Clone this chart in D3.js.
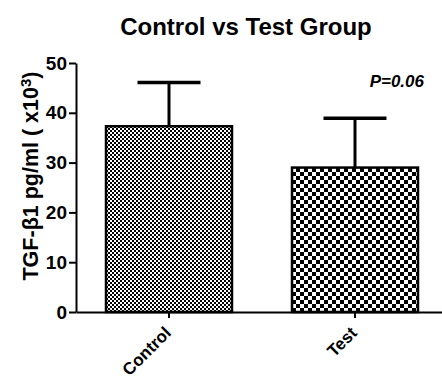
<!DOCTYPE html>
<html>
<head>
<meta charset="utf-8">
<script src="https://cdn.jsdelivr.net/npm/d3@7"></script>
<style>
  body { margin: 0; background: #fff; }
  text { font-family: "Liberation Sans", Arial, sans-serif; font-weight: bold; fill: #000; }
</style>
</head>
<body>
<div id="chart"></div>
<script>
const groups = ["Control", "Test"];
const means = [37.3, 29.0];
const errors = [8.8, 9.9];
const yTicks = [0, 10, 20, 30, 40, 50];
const pLabel = "P=0.06";

const width = 442, height = 376;

const svg = d3.select("#chart")
  .append("svg")
  .attr("width", width)
  .attr("height", height);

// fill patterns: fine checker for control, coarse checker for test
const defs = svg.append("defs");
function checker(id, s) {
  const p = defs.append("pattern")
    .attr("id", id)
    .attr("patternUnits", "userSpaceOnUse")
    .attr("width", s * 2)
    .attr("height", s * 2);
  p.append("rect").attr("width", s * 2).attr("height", s * 2).attr("fill", "#fff");
  p.append("rect").attr("width", s).attr("height", s).attr("fill", "#000");
  p.append("rect").attr("x", s).attr("y", s).attr("width", s).attr("height", s).attr("fill", "#000");
}
checker("fine", 2);
checker("coarse", 4);
const fills = ["url(#fine)", "url(#coarse)"];

const x = d3.scaleBand()
  .domain(groups)
  .range([76, 448])
  .paddingInner(0.3226)
  .paddingOuter(0.1613);

const y = d3.scaleLinear()
  .domain([0, 50])
  .range([312, 63]);

// bars
svg.selectAll(".bar")
  .data(groups)
  .enter()
  .append("rect")
  .attr("x", d => x(d))
  .attr("y", (d, i) => y(means[i]))
  .attr("width", x.bandwidth())
  .attr("height", (d, i) => y(0) - y(means[i]))
  .attr("fill", (d, i) => fills[i])
  .attr("stroke", "#000")
  .attr("stroke-width", 2.5);

// upper error bars
const cap = x.bandwidth() / 4;
groups.forEach((g, i) => {
  const cx = x(g) + x.bandwidth() / 2;
  svg.append("line")
    .attr("x1", cx).attr("x2", cx)
    .attr("y1", y(means[i])).attr("y2", y(means[i] + errors[i]))
    .attr("stroke", "#000").attr("stroke-width", 3);
  svg.append("line")
    .attr("x1", cx - cap).attr("x2", cx + cap)
    .attr("y1", y(means[i] + errors[i])).attr("y2", y(means[i] + errors[i]))
    .attr("stroke", "#000").attr("stroke-width", 3.5);
});

// y axis
const yAxis = svg.append("g")
  .attr("transform", "translate(76,0)")
  .call(d3.axisLeft(y).tickValues(yTicks).tickSize(7).tickPadding(2).tickSizeOuter(0));
yAxis.selectAll("path, line").attr("stroke", "#000").attr("stroke-width", 2);
yAxis.selectAll("text")
  .style("font-size", "19px")
  .style("font-family", "'Liberation Sans', Arial, sans-serif")
  .style("font-weight", "bold");

// x axis
const xAxis = svg.append("g")
  .attr("transform", "translate(0,312)")
  .call(d3.axisBottom(x).tickSize(6).tickSizeOuter(0));
xAxis.selectAll("path, line").attr("stroke", "#000").attr("stroke-width", 2);
xAxis.selectAll("text")
  .style("font-size", "17px")
  .style("font-family", "'Liberation Sans', Arial, sans-serif")
  .style("font-weight", "bold")
  .attr("text-anchor", "end")
  .attr("y", 0)
  .attr("dy", 0)
  .attr("transform", "translate(3,22) rotate(-45)");

// title
svg.append("text")
  .attr("x", 246)
  .attr("y", 35)
  .attr("text-anchor", "middle")
  .style("font-size", "24px")
  .text("Control vs Test Group");

// y label with superscript
const yl = svg.append("text")
  .attr("transform", "translate(38,176) rotate(-90)")
  .attr("text-anchor", "middle")
  .style("font-size", "21.5px");
yl.append("tspan").text("TGF-\u03b21 pg/ml ( x10");
yl.append("tspan").attr("dy", "-0.45em").style("font-size", "15px").text("3");
yl.append("tspan").attr("dy", "0.32em").text(")");

// p value
svg.append("text")
  .attr("x", 424)
  .attr("y", 87)
  .attr("text-anchor", "end")
  .style("font-size", "17px")
  .style("font-style", "italic")
  .text(pLabel);
</script>
</body>
</html>
